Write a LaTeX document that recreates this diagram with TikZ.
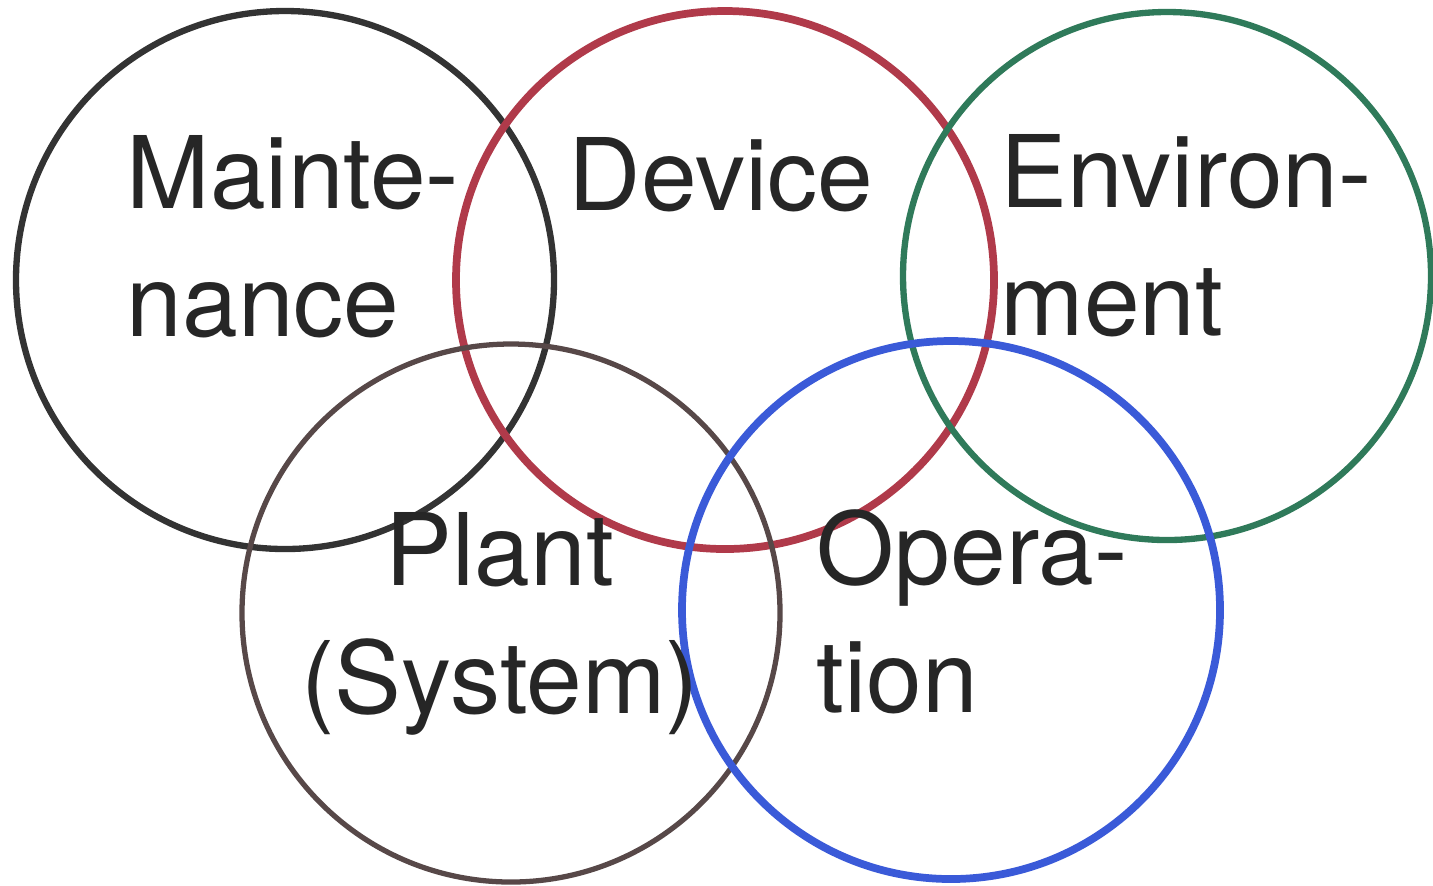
\documentclass[tikz,border=0pt]{standalone}
\usepackage{fontspec}
\setmainfont{TeX Gyre Heros}
\usepackage{tikz}
\usetikzlibrary{positioning}
\definecolor{inkblack}{HTML}{333333}
\definecolor{inkred}{HTML}{B03A4A}
\definecolor{inkgreen}{HTML}{2F7A5A}
\definecolor{inkbrown}{HTML}{574848}
\definecolor{inkblue}{HTML}{3A5AD8}
\definecolor{inktext}{HTML}{262626}
\tikzstyle{ring} = [circle, draw, line width=1.8pt, minimum size=5.38cm, inner sep=0]
\tikzstyle{word} = [inner sep=0, text=inktext, font=\fontsize{28.5}{36.4}\selectfont]

\begin{document}
\begin{tikzpicture}
				\useasboundingbox (0, 0) rectangle (14.33, -8.85);

				% top row
				\node (Maint) [ring, draw=inkblack] at (2.85, -2.80) {};
				\node (Dev) [ring, draw=inkred, line width=2.2pt] at (7.25, -2.80) {};
				\node (Env) [ring, draw=inkgreen, minimum size=5.28cm] at (11.67, -2.76) {};

				% bottom row
				\node (Plant) [ring, draw=inkbrown, line width=1.5pt] at (5.11, -6.13) {};
				\node (Oper) [ring, draw=inkblue, line width=2.2pt] at (9.51, -6.10) {};

				% labels (anchored at the baseline of the last line)
				\node (MaintText) [word, anchor=base west, align=left] at (1.26, -3.36) {Mainte-\\nance};
				\node (DevText) [word, anchor=base west] at (5.68, -2.10) {Device};
				\node (EnvText) [word, anchor=base west, align=left] at (10.00, -3.35) {Environ-\\ment};
				\node (PlantText) [word, anchor=base, align=center] at (5.00, -7.13) {Plant\\(System)};
				\node (OperText) [word, anchor=base west, align=left] at (8.16, -7.12) {Opera-\\tion};
			\end{tikzpicture}
\end{document}
